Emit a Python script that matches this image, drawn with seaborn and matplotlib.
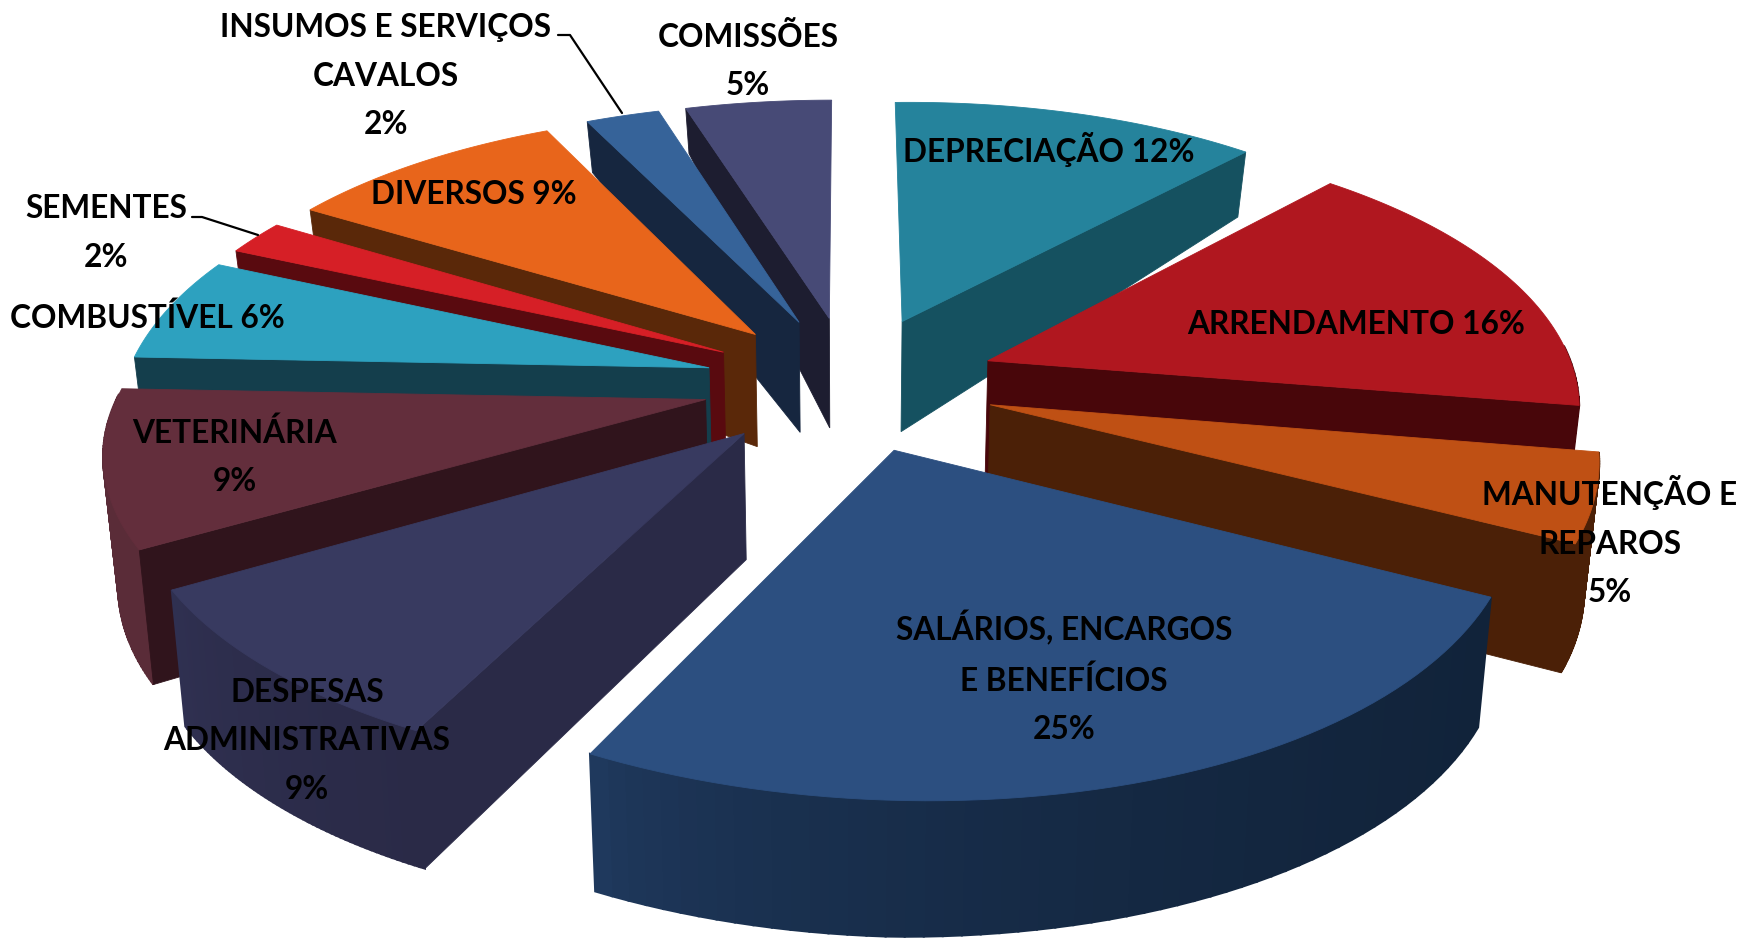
import numpy as np
import matplotlib
matplotlib.use("Agg")
import matplotlib.pyplot as plt
import seaborn as sns

# dados do grafico (sentido horario a partir das 12h)
categorias = ["DEPRECIAÇÃO", "ARRENDAMENTO", "MANUTENÇÃO E REPAROS", "SALÁRIOS, ENCARGOS E BENEFÍCIOS",
              "DESPESAS ADMINISTRATIVAS", "VETERINÁRIA", "COMBUSTÍVEL", "SEMENTES", "DIVERSOS",
              "INSUMOS E SERVIÇOS CAVALOS", "COMISSÕES"]
valores = [12, 16, 5, 25, 9, 9, 6, 2, 9, 2.35, 4.65]

rotulos = ["DEPRECIAÇÃO 12%", "ARRENDAMENTO 16%", "MANUTENÇÃO E\nREPAROS\n5%", "SALÁRIOS, ENCARGOS\nE BENEFÍCIOS\n25%",
           "DESPESAS\nADMINISTRATIVAS\n9%", "VETERINÁRIA\n9%", "COMBUSTÍVEL 6%", "SEMENTES\n2%", "DIVERSOS 9%",
           "INSUMOS E SERVIÇOS\nCAVALOS\n2%", "COMISSÕES\n5%"]
rotulo_x = [1049, 1356, 1610, 1064, 307, 235, 147, 106, 474, 386, 748]
rotulo_y = [149, 325, 541, 677, 741, 457, 318, 233, 194, 76, 61]

cores_topo = ["#25839c", "#b0171f", "#bf5014", "#2c4f80", "#383a60", "#632e3c",
              "#2da1bf", "#d61f26", "#e8651b", "#366399", "#474a76"]
cores_parede = ["#155160", "#48060a", "#4b2007", "#11233a", "#2a2a47", "#30141c",
                "#143e4c", "#590a0f", "#5a2809", "#16263f", "#1d1d30"]
cores_arco_esq = ["#155160", "#48060a", "#4b2007", "#213c62", "#303152", "#5a2c38",
                  "#143e4c", "#590a0f", "#5a2809", "#16263f", "#1d1d30"]
cores_arco_dir = ["#155160", "#48060a", "#4b2007", "#11233a", "#2a2a47", "#5a2c38",
                  "#143e4c", "#590a0f", "#5a2809", "#16263f", "#1d1d30"]

# parametros da perspectiva (px)
CX, CY = 850, 383
A, B = 587, 271.5
K = 0.158
EXPLODE = 0.25


def projeta(u, v, desce=0.0):
    """Projeta um ponto do plano da pizza na tela, desce=1 e a base."""
    u = np.asarray(u, dtype=float)
    v = np.asarray(v, dtype=float)
    w = 1 - K * v
    canto = np.clip(-u, 0, None) * np.clip(-v, 0, None)
    dx = A * u / w + 27 * np.clip(v, 0, None) ** 2 - 11 * canto
    dy = B * v / w - 0.011 * dx - 4 * canto
    altura = 120 + 38 * v - 20 * v ** 2 - 10 * np.clip(u, 0, None) * np.clip(v, 0, None)
    return CX + dx * (1 - 0.02 * desce), CY + dy + altura * desce


def mistura(c1, c2, t):
    a = np.array(matplotlib.colors.to_rgb(c1))
    b = np.array(matplotlib.colors.to_rgb(c2))
    return tuple(a + (b - a) * t)


sns.set_theme(style="white")
plt.rcParams["font.family"] = ["Lato", "DejaVu Sans"]

fig = plt.figure(figsize=(17.54, 9.38), dpi=100)
ax = fig.add_axes([0, 0, 1, 1])
ax.set_xlim(0, 1754)
ax.set_ylim(938, 0)
ax.axis("off")

limites = np.cumsum([0] + valores) / sum(valores) * 2 * np.pi
fatias = []
for i in range(len(valores)):
    meio = (limites[i] + limites[i + 1]) / 2
    fatias.append((-np.cos(meio), i, limites[i], limites[i + 1], meio))

# desenha do fundo para a frente
for _, i, t0, t1, meio in sorted(fatias):
    off_u, off_v = EXPLODE * np.sin(meio), -EXPLODE * np.cos(meio)
    th = np.linspace(t0, t1, 60)
    u = off_u + np.sin(th)
    v = off_v - np.cos(th)

    # parede externa
    xt, yt = projeta(u, v)
    xb, yb = projeta(u, v, 1)
    vis = np.cos(th) < 0.05
    xc = np.where(vis)[0]
    for j in xc[:-1]:
        t = ((xt[j] - xt.min()) / max(xt.max() - xt.min(), 1)) ** 0.5
        ax.fill([xt[j], xt[j + 1], xb[j + 1], xb[j]], [yt[j], yt[j + 1], yb[j + 1], yb[j]],
                color=mistura(cores_arco_esq[i], cores_arco_dir[i], t), lw=1.5)

    # paredes radiais
    for ang, visivel in ((t0, np.sin(t0) < 0), (t1, np.sin(t1) > 0)):
        if visivel:
            pu = [off_u, off_u + np.sin(ang)]
            pv = [off_v, off_v - np.cos(ang)]
            x0, y0 = projeta(pu, pv)
            x1, y1 = projeta(pu, pv, 1)
            ax.fill([x0[0], x0[1], x1[1], x1[0]], [y0[0], y0[1], y1[1], y1[0]],
                    color=cores_parede[i], lw=0.6)

    # topo
    x, y = projeta(np.r_[off_u, u], np.r_[off_v, v])
    ax.fill(x, y, color=cores_topo[i], lw=0.6)

for r, x, y in zip(rotulos, rotulo_x, rotulo_y):
    ax.text(x, y, r, ha="center", va="center", fontsize=22.8, fontweight="bold",
            color="black", linespacing=1.8)

# linhas de chamada
ax.plot([558, 570, 622], [35, 35, 113], color="black", lw=1.6)
ax.plot([192, 202, 258], [217, 217, 235], color="black", lw=1.6)

sns.despine(ax=ax, left=True, bottom=True)
fig.savefig("out.png", dpi=100, facecolor="white")
